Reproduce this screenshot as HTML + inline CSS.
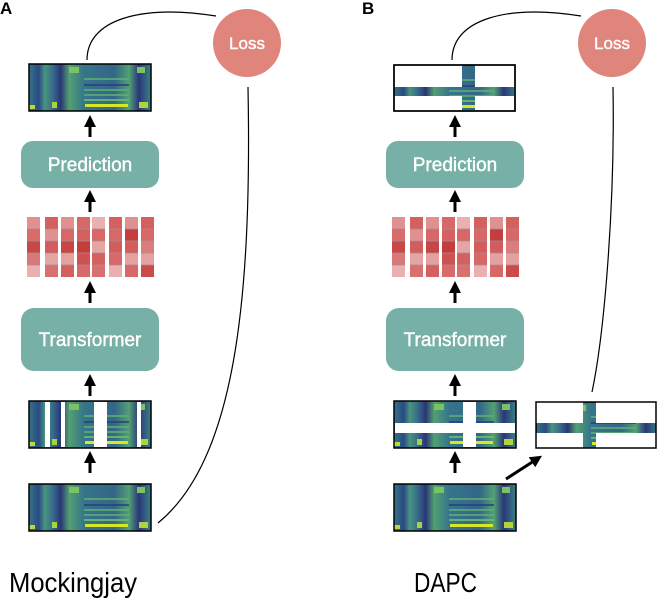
<!DOCTYPE html>
<html><head><meta charset="utf-8"><style>
html,body{margin:0;padding:0;background:#fff;}
svg{display:block;}
</style></head><body>
<svg width="658" height="605" viewBox="0 0 658 605" xmlns="http://www.w3.org/2000/svg" font-family="Liberation Sans, sans-serif">
<defs>
<marker id="ah" markerWidth="4" markerHeight="4" refX="2" refY="2" orient="auto" markerUnits="strokeWidth">
<path d="M0,0 L4,2 L0,4 z" fill="#000"/></marker>
<linearGradient id="vb" x1="0" y1="0" x2="1" y2="0">
<stop offset="0" stop-color="#357585"/>
<stop offset="0.08" stop-color="#2b4a84"/>
<stop offset="0.13" stop-color="#479480"/>
<stop offset="0.2" stop-color="#36688b"/>
<stop offset="0.26" stop-color="#2a3576"/>
<stop offset="0.33" stop-color="#52a072"/>
<stop offset="0.45" stop-color="#36758a"/>
<stop offset="0.7" stop-color="#346688"/>
<stop offset="0.82" stop-color="#52a074"/>
<stop offset="0.9" stop-color="#2a377a"/>
<stop offset="1" stop-color="#3a8284"/>
</linearGradient>
<g id="spec">
<rect x="0" y="0" width="122" height="47" fill="url(#vb)"/>
<rect x="55" y="14" width="45" height="2" fill="#5fae76" opacity="0.8"/>
<rect x="55" y="20" width="45" height="2" fill="#2d3e7e" opacity="0.8"/>
<rect x="55" y="25" width="45" height="2" fill="#5fae76" opacity="0.8"/>
<rect x="55" y="30" width="45" height="2" fill="#5fae76" opacity="0.8"/>
<rect x="55" y="35" width="45" height="2" fill="#6bb870" opacity="0.9"/>
<rect x="56" y="40" width="43" height="3" fill="#d7e626"/>
<rect x="0" y="41" width="6" height="4" fill="#b9da3a"/>
<rect x="23" y="38" width="5" height="6" fill="#a8d23e"/>
<rect x="110" y="38" width="9" height="6" fill="#b0d43c"/>
<rect x="108" y="3" width="8" height="6" fill="#7ac262"/>
<rect x="40" y="3" width="10" height="6" fill="#7ac262"/>
<rect x="0" y="0" width="122" height="47" fill="none" stroke="#000" stroke-width="1.5"/>
</g>
</defs>

<!-- Panel A -->
<text x="0" y="14" font-size="17" font-weight="bold">A</text>
<use href="#spec" x="29" y="64"/>
<line x1="90" y1="137" x2="90" y2="121" stroke="#000" stroke-width="3" marker-end="url(#ah)"/>
<rect x="21" y="141" width="138" height="47" rx="12" fill="#76b0a6"/>
<text x="90" y="171" font-size="19" fill="#fff" text-anchor="middle" stroke="#fff" stroke-width="0.4">Prediction</text>
<line x1="90" y1="212" x2="90" y2="196" stroke="#000" stroke-width="3" marker-end="url(#ah)"/>
<g id="grid">
<g transform="translate(27,217)">
<rect x="0" y="0" width="13" height="12" fill="#e09090"/><rect x="0" y="12" width="13" height="12" fill="#d96b6b"/><rect x="0" y="24" width="13" height="12" fill="#c84848"/><rect x="0" y="36" width="13" height="12" fill="#d97878"/><rect x="0" y="48" width="13" height="12" fill="#eab0b0"/>
<rect x="18" y="0" width="13" height="12" fill="#d56060"/><rect x="18" y="12" width="13" height="12" fill="#e09090"/><rect x="18" y="24" width="13" height="12" fill="#d35c5c"/><rect x="18" y="36" width="13" height="12" fill="#e5a5a5"/><rect x="18" y="48" width="13" height="12" fill="#d97070"/>
<rect x="34" y="0" width="13" height="12" fill="#e09090"/><rect x="34" y="12" width="13" height="12" fill="#d86868"/><rect x="34" y="24" width="13" height="12" fill="#c84545"/><rect x="34" y="36" width="13" height="12" fill="#e5a0a0"/><rect x="34" y="48" width="13" height="12" fill="#d56060"/>
<rect x="50" y="0" width="13" height="12" fill="#d86868"/><rect x="50" y="12" width="13" height="12" fill="#d56060"/><rect x="50" y="24" width="13" height="12" fill="#c43e3e"/><rect x="50" y="36" width="13" height="12" fill="#cf5252"/><rect x="50" y="48" width="13" height="12" fill="#d86a6a"/>
<rect x="65" y="0" width="13" height="12" fill="#eab0b0"/><rect x="65" y="12" width="13" height="12" fill="#d86868"/><rect x="65" y="24" width="13" height="12" fill="#e5a5a5"/><rect x="65" y="36" width="13" height="12" fill="#d56060"/><rect x="65" y="48" width="13" height="12" fill="#d97070"/>
<rect x="82" y="0" width="13" height="12" fill="#d56060"/><rect x="82" y="12" width="13" height="12" fill="#d86868"/><rect x="82" y="24" width="13" height="12" fill="#d35c5c"/><rect x="82" y="36" width="13" height="12" fill="#d86868"/><rect x="82" y="48" width="13" height="12" fill="#eab0b0"/>
<rect x="98" y="0" width="13" height="12" fill="#e09090"/><rect x="98" y="12" width="13" height="12" fill="#c43e3e"/><rect x="98" y="24" width="13" height="12" fill="#d35c5c"/><rect x="98" y="36" width="13" height="12" fill="#e5a0a0"/><rect x="98" y="48" width="13" height="12" fill="#d86868"/>
<rect x="114" y="0" width="13" height="12" fill="#d56060"/><rect x="114" y="12" width="13" height="12" fill="#d86868"/><rect x="114" y="24" width="13" height="12" fill="#dc7c7c"/><rect x="114" y="36" width="13" height="12" fill="#e5a0a0"/><rect x="114" y="48" width="13" height="12" fill="#cc4a4a"/>
<g stroke="#a09090" stroke-width="0.8"><line x1="0" y1="12" x2="127" y2="12"/><line x1="0" y1="24" x2="127" y2="24"/><line x1="0" y1="36" x2="127" y2="36"/><line x1="0" y1="48" x2="127" y2="48"/></g>
<g fill="#fff"><rect x="13" y="0" width="5" height="60"/><rect x="31" y="0" width="3" height="60"/><rect x="47" y="0" width="3" height="60"/><rect x="63" y="0" width="2" height="60"/><rect x="78" y="0" width="4" height="60"/><rect x="95" y="0" width="3" height="60"/><rect x="111" y="0" width="3" height="60"/></g>
</g>
</g>
<line x1="90" y1="303" x2="90" y2="287" stroke="#000" stroke-width="3" marker-end="url(#ah)"/>
<rect x="21" y="308" width="138" height="63" rx="13" fill="#76b0a6"/>
<text x="90" y="346" font-size="19" fill="#fff" text-anchor="middle" stroke="#fff" stroke-width="0.4">Transformer</text>
<line x1="90" y1="396" x2="90" y2="380" stroke="#000" stroke-width="3" marker-end="url(#ah)"/>
<use href="#spec" x="29" y="401"/>
<rect x="45" y="402" width="5" height="45" fill="#fff"/>
<rect x="61" y="402" width="4" height="45" fill="#fff"/>
<rect x="94" y="402" width="13" height="45" fill="#fff"/>
<rect x="137" y="402" width="4" height="45" fill="#fff"/>
<line x1="90" y1="473" x2="90" y2="457" stroke="#000" stroke-width="3" marker-end="url(#ah)"/>
<use href="#spec" x="29" y="484"/>
<circle cx="247" cy="43" r="34" fill="#e0857c"/>
<text x="247" y="49" font-size="17" fill="#fff" text-anchor="middle" stroke="#fff" stroke-width="0.4">Loss</text>
<path d="M87,60 C87,20 140,4 216,16" fill="none" stroke="#000" stroke-width="1.2"/>
<path d="M248,87 C252,300 235,460 158,523" fill="none" stroke="#000" stroke-width="1.2"/>
<text x="9" y="592" font-size="28" textLength="128" lengthAdjust="spacingAndGlyphs">Mockingjay</text>

<!-- Panel B -->
<text x="362" y="14" font-size="17" font-weight="bold">B</text>
<rect x="394" y="65" width="121" height="46" fill="#fff" stroke="#000" stroke-width="1.5"/>
<svg x="394" y="65" width="121" height="46" overflow="hidden">
<clipPath id="c1"><rect x="0" y="22" width="121" height="9"/><rect x="68" y="0" width="13" height="46"/></clipPath>
<use href="#spec" x="0" y="0" clip-path="url(#c1)"/>
</svg>
<rect x="394" y="65" width="121" height="46" fill="none" stroke="#000" stroke-width="1.5"/>
<line x1="455" y1="137" x2="455" y2="121" stroke="#000" stroke-width="3" marker-end="url(#ah)"/>
<rect x="386" y="141" width="138" height="47" rx="12" fill="#76b0a6"/>
<text x="455" y="171" font-size="19" fill="#fff" text-anchor="middle" stroke="#fff" stroke-width="0.4">Prediction</text>
<line x1="455" y1="212" x2="455" y2="196" stroke="#000" stroke-width="3" marker-end="url(#ah)"/>
<use href="#grid" x="365" y="0"/>
<line x1="455" y1="303" x2="455" y2="287" stroke="#000" stroke-width="3" marker-end="url(#ah)"/>
<rect x="386" y="308" width="138" height="63" rx="13" fill="#76b0a6"/>
<text x="455" y="346" font-size="19" fill="#fff" text-anchor="middle" stroke="#fff" stroke-width="0.4">Transformer</text>
<line x1="455" y1="396" x2="455" y2="380" stroke="#000" stroke-width="3" marker-end="url(#ah)"/>
<use href="#spec" x="394" y="401"/>
<rect x="395" y="423" width="120" height="10" fill="#fff"/>
<rect x="463" y="402" width="13" height="45" fill="#fff"/>
<line x1="455" y1="473" x2="455" y2="457" stroke="#000" stroke-width="3" marker-end="url(#ah)"/>
<use href="#spec" x="394" y="484"/>
<line x1="506" y1="479" x2="537" y2="459" stroke="#000" stroke-width="3" marker-end="url(#ah)"/>
<rect x="536" y="402" width="120" height="46" fill="#fff"/>
<svg x="536" y="402" width="120" height="46" overflow="hidden">
<clipPath id="c2"><rect x="0" y="21" width="120" height="10"/><rect x="47" y="0" width="13" height="46"/></clipPath>
<use href="#spec" x="0" y="0" clip-path="url(#c2)"/>
</svg>
<rect x="536" y="402" width="120" height="46" fill="none" stroke="#000" stroke-width="1.5"/>
<circle cx="612" cy="43" r="34" fill="#e0857c"/>
<text x="612" y="49" font-size="17" fill="#fff" text-anchor="middle" stroke="#fff" stroke-width="0.4">Loss</text>
<path d="M452,60 C452,20 505,4 581,16" fill="none" stroke="#000" stroke-width="1.2"/>
<path d="M613,87 C615,200 605,330 592,392" fill="none" stroke="#000" stroke-width="1.2"/>
<text x="414" y="592" font-size="28" textLength="63" lengthAdjust="spacingAndGlyphs">DAPC</text>
</svg>
</body></html>
